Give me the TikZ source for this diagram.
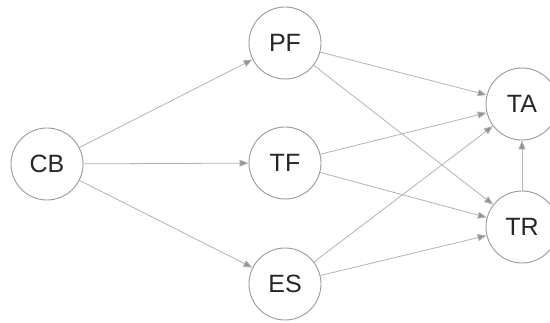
\documentclass[tikz,border=0pt]{standalone}
\usepackage{fontspec}
\setmainfont{Liberation Sans}
\usetikzlibrary{arrows.meta}
\definecolor{edgegray}{HTML}{B4B4B4}
\definecolor{circgray}{HTML}{9A9A9A}
\begin{document}
\begin{tikzpicture}[x=1pt,y=-1pt,
  vnode/.style={circle,draw=circgray,line width=0.9pt,minimum size=72pt,inner sep=0pt,font=\fontsize{25}{27}\selectfont,text=black!85},
  edge/.style={draw=edgegray,line width=0.8pt,-{Triangle[length=9pt,width=7pt,fill=gray!85]}}]
\useasboundingbox (0,0) rectangle (550,323);
\fill[white] (0,0) rectangle (550,323);
\node[vnode] (CB) at (47,164) {CB};
\node[vnode] (PF) at (285,43) {PF};
\node[vnode] (TF) at (285,163) {TF};
\node[vnode] (ES) at (285,284) {ES};
\node[vnode] (TA) at (522,104) {TA};
\node[vnode] (TR) at (522,227) {TR};
\draw[edge] (CB) -- (PF);
\draw[edge] (CB) -- (TF);
\draw[edge] (CB) -- (ES);
\draw[edge] (PF) -- (TA);
\draw[edge] (PF) -- (TR);
\draw[edge] (TF) -- (TA);
\draw[edge] (TF) -- (TR);
\draw[edge] (ES) -- (TA);
\draw[edge] (ES) -- (TR);
\draw[edge] (TR) -- (TA);
\end{tikzpicture}
\end{document}
